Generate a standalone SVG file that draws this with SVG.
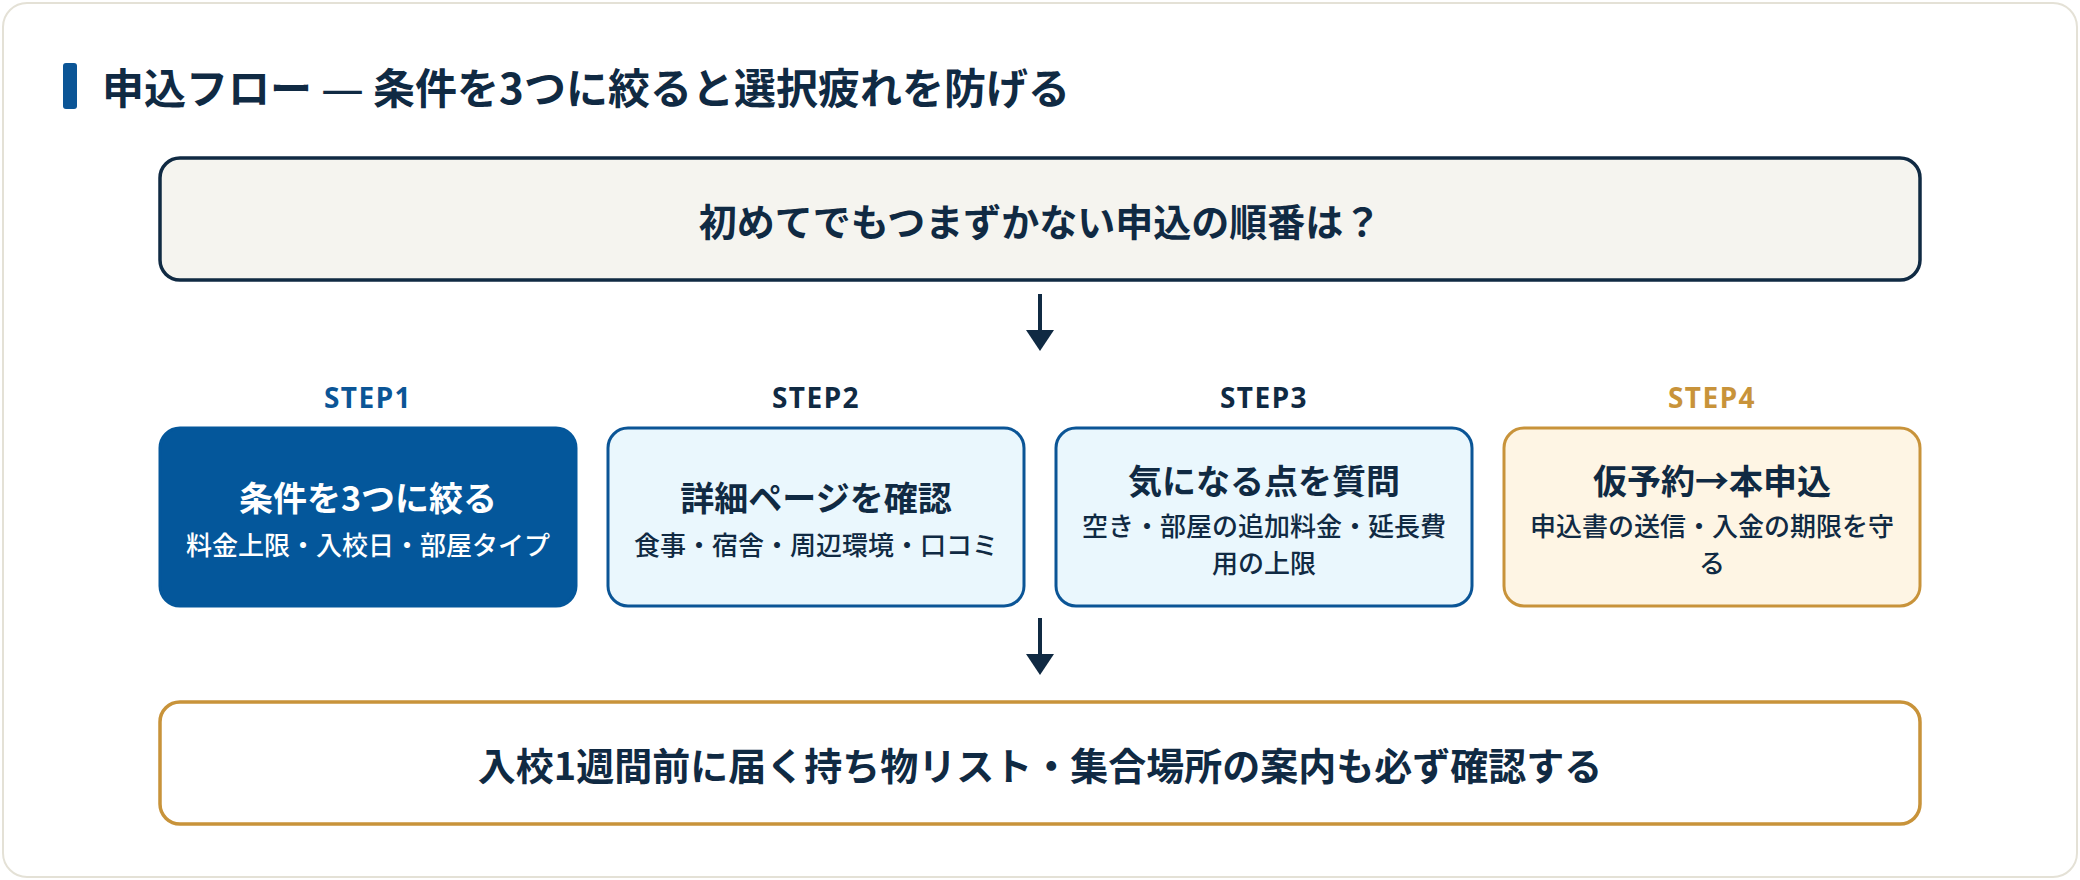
<svg xmlns="http://www.w3.org/2000/svg" width="2080" height="880" viewBox="0 0 2080 880">
  <defs>
    <marker id="ah" viewBox="0 0 21 28" refX="0" refY="14" markerWidth="21" markerHeight="28" markerUnits="userSpaceOnUse" orient="auto">
      <path d="M0,0 L21,14 L0,28 Z" fill="#102a43"/>
    </marker>
    <style>
      .jp { font-family: 'Noto Sans CJK JP', 'Noto Sans', sans-serif; }
      .h1 { font-size: 42px; font-weight: 700; fill: #102a43; }
      .dash { font-family: 'Noto Sans', 'DejaVu Sans', sans-serif; font-weight: 400; }
      .big { font-size: 38px; font-weight: 700; fill: #102a43; text-anchor: middle; }
      .step { font-family: 'Noto Sans', 'Noto Sans CJK JP', sans-serif; font-size: 28px; font-weight: 700; text-anchor: middle; letter-spacing: 1.5px; }
      .bt { font-size: 34px; font-weight: 700; text-anchor: middle; fill: #102a43; }
      .bs { font-size: 26px; font-weight: 500; text-anchor: middle; fill: #102a43; }
      .w { fill: #ffffff; }
      .conn { stroke: #102a43; stroke-width: 4; fill: none; }
    </style>
  </defs>

  <rect x="0" y="0" width="2080" height="880" fill="#ffffff"/>
  <rect id="card" x="3" y="3" width="2074" height="874" rx="24" fill="#ffffff" stroke="#e4e1d6" stroke-width="2"/>

  <g id="title">
    <rect x="63" y="63" width="14" height="46" rx="3" fill="#0b5596"/>
    <text class="jp h1" x="102" y="104">申込フロー <tspan class="dash">—</tspan> 条件を3つに絞ると選択疲れを防げる</text>
  </g>

  <g id="question">
    <rect x="160" y="158" width="1760" height="122" rx="20" fill="#f5f4ef" stroke="#102a43" stroke-width="3.5"/>
    <text class="jp big" x="1040" y="236">初めてでもつまずかない申込の順番は？</text>
  </g>

  <g id="step1">
    <text class="step" x="368" y="408" fill="#0b5596">STEP1</text>
    <rect x="160" y="428" width="416" height="178" rx="20" fill="#04579b" stroke="#04579b" stroke-width="3"/>
    <text class="jp bt w" x="368" y="511">条件を3つに絞る</text>
    <text class="jp bs w" x="368" y="555">料金上限・入校日・部屋タイプ</text>
  </g>

  <g id="step2">
    <text class="step" x="816" y="408" fill="#102a43">STEP2</text>
    <rect x="608" y="428" width="416" height="178" rx="20" fill="#eaf7fd" stroke="#0b5596" stroke-width="3"/>
    <text class="jp bt" x="816" y="511">詳細ページを確認</text>
    <text class="jp bs" x="816" y="555">食事・宿舎・周辺環境・口コミ</text>
  </g>

  <g id="step3">
    <text class="step" x="1264" y="408" fill="#102a43">STEP3</text>
    <rect x="1056" y="428" width="416" height="178" rx="20" fill="#eaf7fd" stroke="#0b5596" stroke-width="3"/>
    <text class="jp bt" x="1264" y="494">気になる点を質問</text>
    <text class="jp bs" x="1264" y="536">空き・部屋の追加料金・延長費</text>
    <text class="jp bs" x="1264" y="573">用の上限</text>
  </g>

  <g id="step4">
    <text class="step" x="1712" y="408" fill="#c8933a">STEP4</text>
    <rect x="1504" y="428" width="416" height="178" rx="20" fill="#fef5e4" stroke="#c8933a" stroke-width="3"/>
    <text class="jp bt" x="1712" y="494">仮予約→本申込</text>
    <text class="jp bs" x="1712" y="536">申込書の送信・入金の期限を守</text>
    <text class="jp bs" x="1712" y="573">る</text>
  </g>

  <g id="note">
    <rect x="160" y="702" width="1760" height="122" rx="20" fill="#ffffff" stroke="#c8933a" stroke-width="3.5"/>
    <text class="jp big" x="1040" y="780">入校1週間前に届く持ち物リスト・集合場所の案内も必ず確認する</text>
  </g>

  <g id="connectors">
    <line class="conn" x1="1040" y1="294" x2="1040" y2="330" marker-end="url(#ah)"/>
    <line class="conn" x1="1040" y1="618" x2="1040" y2="654" marker-end="url(#ah)"/>
  </g>
</svg>
